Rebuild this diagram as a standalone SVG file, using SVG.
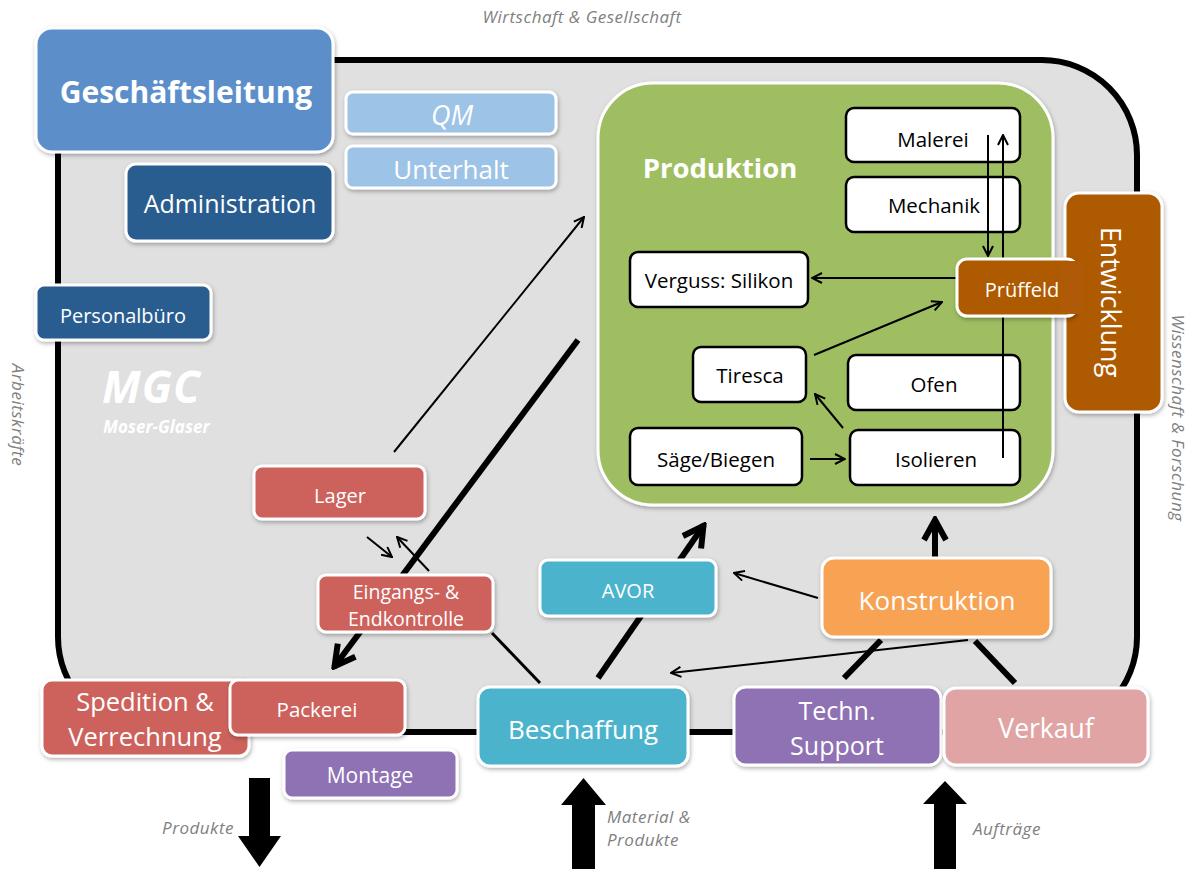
<svg xmlns="http://www.w3.org/2000/svg" width="1190" height="869" viewBox="0 0 1190 869">
<defs>
<filter id="sh" x="-10%" y="-10%" width="130%" height="140%">
<feDropShadow dx="1" dy="2" stdDeviation="2" flood-color="#000" flood-opacity="0.3"/>
</filter>
<marker id="ah" viewBox="0 0 12 12" refX="11" refY="6" markerWidth="12" markerHeight="12" markerUnits="userSpaceOnUse" orient="auto">
<path d="M1,1 L11,6 L1,11" fill="none" stroke="#000" stroke-width="2"/>
</marker>
<marker id="ahT" viewBox="0 0 28 28" refX="25" refY="14" markerWidth="28" markerHeight="28" markerUnits="userSpaceOnUse" orient="auto">
<path d="M4,3 L24,14 L4,25" fill="none" stroke="#000" stroke-width="6" stroke-linejoin="miter"/>
</marker>
</defs>
<style>
text{font-family:"Open Sans","Noto Sans",sans-serif;fill:#fff;text-anchor:middle}
.st{text-anchor:start}
.box{stroke:#fff;stroke-width:3;filter:url(#sh)}
.in{fill:#fff;stroke:#000;stroke-width:2.5}
.in-t{fill:#000;font-size:20.5px}
.lbl{fill:#808080;font-style:italic;font-size:17px;letter-spacing:0.5px}
.thin{stroke:#000;stroke-width:2;fill:none}
.thick{stroke:#000;stroke-width:6;fill:none}
.red{fill:#cd625b}
.cyan{fill:#4bb4cc}
.purple{fill:#8e72b3}
.brown{fill:#ae5a06}
.navy{fill:#2b5d8f}
</style>
<rect width="1190" height="869" fill="#fff"/>

<!-- outer frame -->
<rect id="frame" x="58" y="60" width="1079" height="672" rx="95" ry="95" fill="#e0e0e0" stroke="#000" stroke-width="6"/>

<!-- Produktion container and inner boxes -->
<g id="produktion">
<rect x="598" y="83" width="455" height="422" rx="55" ry="55" fill="#9fbe62" stroke="#fff" stroke-width="3" filter="url(#sh)"/>
<text x="720" y="178" font-size="27.5" font-weight="bold">Produktion</text>
</g>
<g id="malerei"><rect class="in" x="846" y="108" width="174" height="54" rx="8"/><text class="in-t" x="933" y="147">Malerei</text></g>
<g id="mechanik"><rect class="in" x="846" y="177" width="174" height="55" rx="8"/><text class="in-t" x="934" y="213">Mechanik</text></g>
<g id="verguss"><rect class="in" x="630" y="252" width="178" height="55" rx="8"/><text class="in-t" x="719" y="288">Verguss: Silikon</text></g>
<g id="tiresca"><rect class="in" x="693" y="347" width="113" height="55" rx="8"/><text class="in-t" x="750" y="383">Tiresca</text></g>
<g id="ofen"><rect class="in" x="848" y="355" width="172" height="55" rx="8"/><text class="in-t" x="934" y="392">Ofen</text></g>
<g id="saege"><rect class="in" x="630" y="428" width="172" height="57" rx="8"/><text class="in-t" x="716" y="467">Säge/Biegen</text></g>
<g id="isolieren"><rect class="in" x="850" y="430" width="170" height="55" rx="8"/><text class="in-t" x="936" y="467">Isolieren</text></g>

<!-- connectors -->
<g id="connectors">
<line class="thin" x1="988" y1="135" x2="988" y2="256" marker-end="url(#ah)"/>
<line class="thin" x1="1003" y1="458" x2="1003" y2="135" marker-end="url(#ah)"/>
<line class="thin" x1="957" y1="278" x2="812" y2="278" marker-end="url(#ah)"/>
<line class="thin" x1="814" y1="355" x2="942" y2="302" marker-end="url(#ah)"/>
<line class="thin" x1="843" y1="428" x2="815" y2="394" marker-end="url(#ah)"/>
<line class="thin" x1="810" y1="459" x2="845" y2="459" marker-end="url(#ah)"/>
<line class="thin" x1="394" y1="452" x2="584" y2="217" marker-end="url(#ah)"/>
<line class="thick" x1="578" y1="340" x2="334" y2="667" marker-end="url(#ahT)"/>
<line class="thin" x1="367" y1="537" x2="392" y2="557" marker-end="url(#ah)"/>
<line class="thin" x1="429" y1="571" x2="397" y2="537" marker-end="url(#ah)"/>
<line x1="492" y1="633" x2="540" y2="683" stroke="#000" stroke-width="3"/>
<line class="thick" x1="598" y1="678" x2="704" y2="525" marker-end="url(#ahT)"/>
<line class="thick" x1="935" y1="557" x2="935" y2="519" marker-end="url(#ahT)"/>
<line class="thin" x1="818" y1="598" x2="734" y2="573" marker-end="url(#ah)"/>
<line class="thin" x1="968" y1="640" x2="671" y2="673" marker-end="url(#ah)"/>
<line class="thick" x1="844" y1="678" x2="881" y2="640"/>
<line class="thick" x1="975" y1="641" x2="1015" y2="683"/>
<polygon points="249,778 270,778 270,836 281,836 259.5,867 238,836 249,836" fill="#000"/>
<polygon points="572,869 595,869 595,805 606,805 583.5,778 561,805 572,805" fill="#000"/>
<polygon points="934,869 956,869 956,804 967,804 945,781 923,804 934,804" fill="#000"/>
</g>

<!-- Entwicklung / Prüffeld -->
<g id="entwicklung">
<rect class="box brown" x="1065" y="193" width="97" height="219" rx="14"/>
<text transform="translate(1101 302) rotate(90)" font-size="27">Entwicklung</text>
</g>
<g id="prueffeld">
<rect class="box brown" x="957" y="259" width="120" height="57" rx="10"/>
<rect class="brown" x="1060" y="261" width="24" height="53"/>
<text x="1022" y="297" font-size="20">Prüffeld</text>
</g>

<!-- management -->
<g id="geschaeftsleitung"><rect class="box" x="36" y="28" width="297" height="124" rx="16" fill="#5b8fc9"/><text x="186" y="103" font-size="30" font-weight="bold">Geschäftsleitung</text></g>
<g id="qm"><rect class="box" x="346" y="92" width="210" height="42" rx="7" fill="#9dc3e6"/><text x="452" y="125" font-size="27" font-style="italic">QM</text></g>
<g id="unterhalt"><rect class="box" x="346" y="146" width="210" height="42" rx="7" fill="#9dc3e6"/><text x="451" y="179" font-size="26">Unterhalt</text></g>
<g id="administration"><rect class="box navy" x="126" y="164" width="207" height="77" rx="10"/><text x="230" y="213" font-size="25">Administration</text></g>
<g id="personalbuero"><rect class="box navy" x="36" y="285" width="175" height="55" rx="8"/><text x="123" y="323" font-size="20">Personalbüro</text></g>

<g id="mgc">
<text class="st" x="102" y="403" font-size="44" font-weight="bold" font-style="italic" letter-spacing="1">MGC</text>
<text class="st" x="103" y="433" font-size="17" font-weight="bold" font-style="italic">Moser-Glaser</text>
</g>

<!-- lower nodes -->
<g id="lager"><rect class="box red" x="254" y="466" width="171" height="53" rx="8"/><text x="340" y="503" font-size="20">Lager</text></g>
<g id="eingangskontrolle"><rect class="box red" x="318" y="575" width="175" height="57" rx="8"/><text x="406" y="599" font-size="19.5">Eingangs- &amp;</text><text x="406" y="626" font-size="19.5">Endkontrolle</text></g>
<g id="avor"><rect class="box cyan" x="540" y="560" width="176" height="56" rx="8"/><text x="628" y="598" font-size="20">AVOR</text></g>
<g id="konstruktion"><rect class="box" x="822" y="558" width="229" height="79" rx="12" fill="#f8a352"/><text x="937" y="610" font-size="26">Konstruktion</text></g>

<g id="spedition"><rect class="box red" x="42" y="680" width="207" height="76" rx="10"/><text x="145" y="711" font-size="25.5">Spedition &amp;</text><text x="145" y="746" font-size="25.5">Verrechnung</text></g>
<g id="packerei"><rect class="box red" x="230" y="680" width="175" height="55" rx="8"/><text x="317" y="717" font-size="20.5">Packerei</text></g>
<g id="montage"><rect class="box purple" x="284" y="750" width="173" height="48" rx="8"/><text x="370" y="783" font-size="21">Montage</text></g>
<g id="beschaffung"><rect class="box cyan" x="478" y="687" width="210" height="79" rx="12"/><text x="583" y="739" font-size="26">Beschaffung</text></g>
<g id="techn-support"><rect class="box purple" x="734" y="687" width="207" height="78" rx="12"/><text x="837" y="720" font-size="25">Techn.</text><text x="837" y="755" font-size="25">Support</text></g>
<g id="verkauf"><rect class="box" x="944" y="688" width="204" height="77" rx="12" fill="#dfa4a3"/><text x="1046" y="738" font-size="26.5">Verkauf</text></g>

<!-- side labels -->
<g id="labels">
<text class="lbl" x="582" y="23">Wirtschaft &amp; Gesellschaft</text>
<text class="lbl" transform="translate(12 415) rotate(90)">Arbeitskräfte</text>
<text class="lbl" transform="translate(1172 418) rotate(90)" font-size="16">Wissenschaft &amp; Forschung</text>
<text class="lbl" x="198" y="834">Produkte</text>
<text class="lbl st" x="607" y="823">Material &amp;</text>
<text class="lbl st" x="607" y="846">Produkte</text>
<text class="lbl st" x="973" y="835">Aufträge</text>
</g>
</svg>
